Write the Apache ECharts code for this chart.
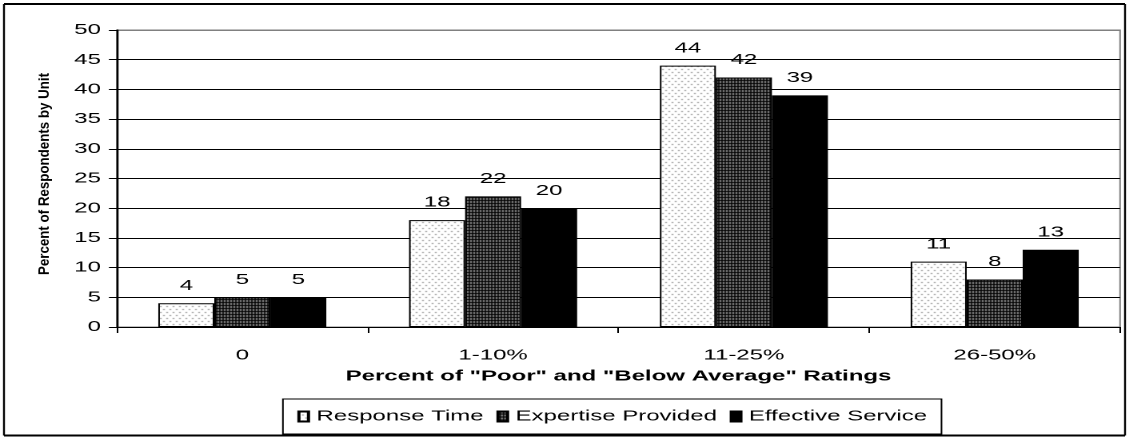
<!DOCTYPE html>
<html>
<head>
<meta charset="utf-8">
<script src="https://cdn.jsdelivr.net/npm/echarts@6/dist/echarts.min.js"></script>
<style>
  html, body { margin: 0; padding: 0; background: #fff; overflow: hidden; }
  /* The chart is laid out narrow and widened on screen, giving the wide lettering */
  #chart { width: 706px; height: 442px; transform: scaleX(1.5992); transform-origin: 0 0; }
</style>
</head>
<body>
<div id="chart"></div>
<script>
// Rating buckets and the share of respondents per unit in each bucket
const categories = ['0', '1-10%', '11-25%', '26-50%'];
const responseTime = [4, 18, 44, 11];
const expertiseProvided = [5, 22, 42, 8];
const effectiveService = [5, 20, 39, 13];
const seriesNames = ['Response Time', 'Expertise Provided', 'Effective Service'];
const yTicks = { min: 0, max: 50, interval: 5 };

// Small tiled canvases used as hatch-style fills
function makePattern(w, h, bg, dots, dotColor) {
  const c = document.createElement('canvas');
  c.width = w; c.height = h;
  const ctx = c.getContext('2d');
  ctx.fillStyle = bg;
  ctx.fillRect(0, 0, w, h);
  ctx.fillStyle = dotColor;
  dots.forEach(([x, y]) => ctx.fillRect(x, y, 1, 1));
  return c;
}
const lightDots = makePattern(4, 6, '#ffffff', [[0, 0], [2, 3]], '#7a7a7a');
const darkGrid = makePattern(2, 3, '#000000', [[0, 0], [0, 1]], '#a0a0a0');

const FONT = '"Liberation Sans", Arial, sans-serif';
const el = document.getElementById('chart');
const chart = echarts.init(el, null, { renderer: 'canvas', devicePixelRatio: 2 });

const labelStyle = { show: true, position: 'top', distance: 10, fontSize: 15, color: '#000', fontFamily: FONT };

function barSeries(name, data, fill) {
  return {
    name, type: 'bar', data,
    barGap: '0%', barCategoryGap: '33%',
    itemStyle: { color: fill, borderColor: '#000', borderWidth: 1 },
    label: labelStyle,
    emphasis: { disabled: true }
  };
}

const gridLineColors = Array(10).fill('#000').concat(['#808080']);

// outer frame
const frame = { x1: 2.5, x2: 703.5, y1: 4, y2: 435.5 };

chart.setOption({
  animation: false,
  backgroundColor: '#fff',
  textStyle: { fontFamily: FONT },
  grid: { left: 73.1, top: 30, right: 5.6, bottom: 115, show: true, borderColor: '#808080', borderWidth: 1 },
  graphic: [
    { type: 'line', shape: { x1: frame.x1, y1: frame.y1, x2: frame.x2, y2: frame.y1 }, style: { stroke: '#000', lineWidth: 2 }, silent: true },
    { type: 'line', shape: { x1: frame.x1, y1: frame.y2, x2: frame.x2, y2: frame.y2 }, style: { stroke: '#000', lineWidth: 2 }, silent: true },
    { type: 'line', shape: { x1: frame.x1, y1: frame.y1, x2: frame.x1, y2: frame.y2 }, style: { stroke: '#000', lineWidth: 1.2 }, silent: true },
    { type: 'line', shape: { x1: frame.x2, y1: frame.y1, x2: frame.x2, y2: frame.y2 }, style: { stroke: '#000', lineWidth: 1.2 }, silent: true },
    {
      type: 'text', x: 28, y: 174, rotation: Math.PI / 2, scaleX: 1.48, scaleY: 1,
      style: {
        text: 'Percent of Respondents by Unit', fontSize: 9, fontWeight: 'bold',
        fill: '#000', align: 'center', verticalAlign: 'middle', fontFamily: FONT
      },
      silent: true
    }
  ],
  legend: {
    bottom: 8, left: 176.9,
    itemWidth: 6, itemHeight: 10, itemGap: 8,
    icon: 'rect',
    borderColor: '#000', borderWidth: 1,
    padding: [10, 9, 10, 9],
    textStyle: { fontSize: 15, color: '#000', fontFamily: FONT },
    data: seriesNames
  },
  xAxis: {
    type: 'category', data: categories,
    axisLine: { lineStyle: { color: '#000', width: 1 } },
    axisTick: { show: true, length: 6, lineStyle: { color: '#000' } },
    axisLabel: { fontSize: 15, color: '#000', margin: 21, fontFamily: FONT },
    name: 'Percent of "Poor" and "Below Average" Ratings',
    nameLocation: 'middle', nameGap: 42,
    nameTextStyle: { fontSize: 15, fontWeight: 'bold', color: '#000', fontFamily: FONT }
  },
  yAxis: {
    type: 'value', min: yTicks.min, max: yTicks.max, interval: yTicks.interval,
    axisLine: { show: true, lineStyle: { color: '#000', width: 1.3 } },
    axisTick: { show: true, length: 5, lineStyle: { color: '#000' } },
    axisLabel: { fontSize: 15, color: '#000', margin: 10, fontFamily: FONT },
    splitLine: { show: true, lineStyle: { color: gridLineColors, width: 1 } }
  },
  series: [
    barSeries(seriesNames[0], responseTime, { image: lightDots, repeat: 'repeat' }),
    barSeries(seriesNames[1], expertiseProvided, { image: darkGrid, repeat: 'repeat' }),
    barSeries(seriesNames[2], effectiveService, '#000')
  ]
});
</script>
</body>
</html>
